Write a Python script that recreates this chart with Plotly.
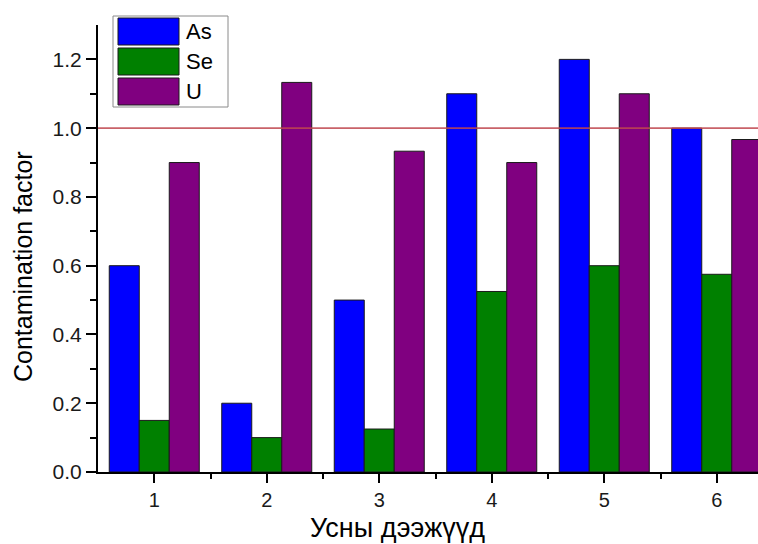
import plotly.graph_objects as go

# Sample numbers and contamination factors per element
samples = [1, 2, 3, 4, 5, 6]
as_values = [0.60, 0.20, 0.50, 1.10, 1.20, 1.00]
se_values = [0.15, 0.10, 0.125, 0.525, 0.60, 0.575]
u_values = [0.90, 1.133, 0.933, 0.90, 1.10, 0.967]

series_names = ["As", "Se", "U"]
series_colors = ["#0000ff", "#008000", "#800080"]
series_values = [as_values, se_values, u_values]

y_ticks = [0.0, 0.2, 0.4, 0.6, 0.8, 1.0, 1.2]
threshold = 1.0

x_title = "Усны дээжүүд"
y_title = "Contamination factor"

FONT = "Arial, Liberation Sans, sans-serif"

fig = go.Figure()
for name, color, vals in zip(series_names, series_colors, series_values):
    fig.add_trace(go.Bar(
        x=samples, y=vals, name=name,
        marker=dict(color=color, line=dict(color="#1a1a1a", width=1)),
        showlegend=False,
    ))

# Reference line at contamination factor = 1
fig.add_shape(type="line", xref="paper", x0=0, x1=1, yref="y", y0=threshold, y1=threshold,
              line=dict(color="#c0474f", width=1.8), opacity=0.85, layer="above")

# Helpers: pixel position -> paper coordinates of the plot area
W, H, L, B = 660.0, 447.0, 98.0, 472.0
def px(x):
    return (x - L) / W
def py(y):
    return (B - y) / H

# Boxed legend with large swatches
fig.add_shape(type="rect", xref="paper", yref="paper",
              x0=px(113), x1=px(228), y0=py(107), y1=py(16),
              line=dict(color="#8a8a8a", width=1), fillcolor="white", layer="above")
row_top = 18
row_h = 30
for i, (name, color) in enumerate(zip(series_names, series_colors)):
    t = row_top + i * row_h
    fig.add_shape(type="rect", xref="paper", yref="paper",
                  x0=px(118), x1=px(179), y0=py(t + 27), y1=py(t),
                  line=dict(color="#1a1a1a", width=1), fillcolor=color, layer="above")
    fig.add_annotation(xref="paper", yref="paper", x=px(184), y=py(t + 13.5),
                       text=name, showarrow=False, xanchor="left", yanchor="middle",
                       font=dict(family=FONT, size=22, color="black"))

# Axis titles
fig.add_annotation(xref="paper", yref="paper", x=px(397), y=py(528),
                   text=x_title, showarrow=False, xanchor="center", yanchor="middle",
                   font=dict(family=FONT, size=27, color="black"))
fig.add_annotation(xref="paper", yref="paper", x=px(23), y=py(267),
                   text=y_title, showarrow=False, textangle=-90,
                   xanchor="center", yanchor="middle",
                   font=dict(family=FONT, size=25, color="black"))

fig.update_layout(
    width=758, height=544,
    margin=dict(l=98, r=0, t=25, b=72),
    paper_bgcolor="white", plot_bgcolor="white",
    barmode="group", bargap=0.2, bargroupgap=0,
    font=dict(family=FONT, color="black"),
)
fig.update_xaxes(
    range=[0.5, 0.5 + 660 / 112.5],
    tickmode="array", tickvals=samples, ticktext=[str(s) for s in samples],
    ticks="outside", ticklen=9, tickwidth=1.5, tickcolor="black",
    minor=dict(ticks="outside", ticklen=5, tickwidth=1.5, tickcolor="black",
               tickmode="array", tickvals=[1.5, 2.5, 3.5, 4.5, 5.5]),
    showline=True, linecolor="black", linewidth=2,
    showgrid=False, zeroline=False,
    tickfont=dict(size=20, color="#1a1a1a"),
)
fig.update_yaxes(
    range=[0, 1.3],
    tickmode="array", tickvals=y_ticks, ticktext=[f"{v:.1f}" for v in y_ticks],
    ticks="outside", ticklen=10, tickwidth=1.5, tickcolor="black",
    minor=dict(ticks="outside", ticklen=6, tickwidth=1.5, tickcolor="black",
               tickmode="array", tickvals=[0.1, 0.3, 0.5, 0.7, 0.9, 1.1]),
    showline=True, linecolor="black", linewidth=2,
    showgrid=False, zeroline=False,
    tickfont=dict(size=21, color="#1a1a1a"),
)

fig.write_html("out.html")
